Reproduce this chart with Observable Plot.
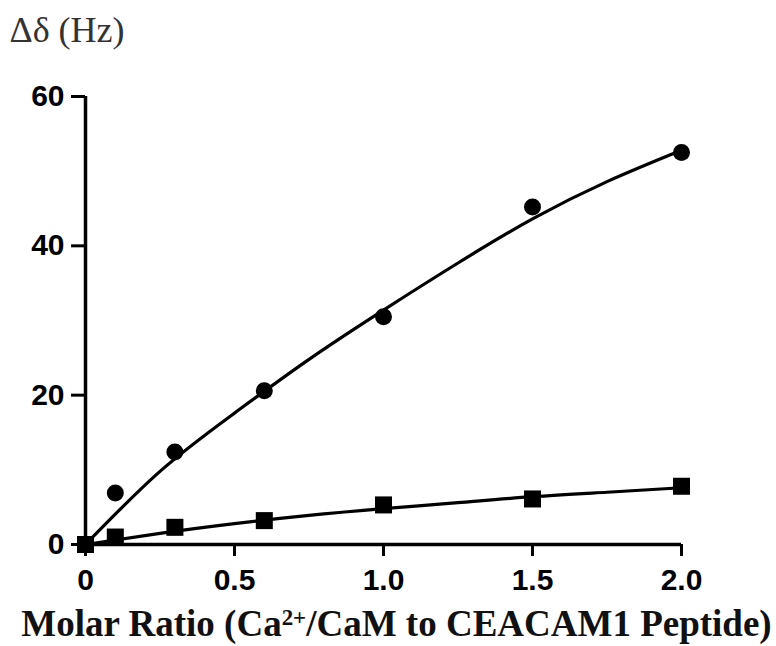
<!DOCTYPE html>
<html>
<head>
<meta charset="utf-8">
<script src="https://cdn.jsdelivr.net/npm/d3@7"></script>
<script src="https://cdn.jsdelivr.net/npm/@observablehq/plot@0.6"></script>
<style>
  html, body { margin: 0; padding: 0; background: #fff; }
</style>
</head>
<body>
<div id="chart"></div>
<script>
// Measured data (molar ratio vs chemical-shift change)
const ratios = [0, 0.1, 0.3, 0.6, 1.0, 1.5, 2.0];
const circleValues = [0, 6.9, 12.4, 20.6, 30.5, 45.2, 52.5];
const squareValues = [0, 1.0, 2.3, 3.2, 5.3, 6.1, 7.8];

// Fitted curves
const fitX = [0, 0.25, 0.5, 0.75, 1.0, 1.25, 1.5, 1.75, 2.0];
const circleFit = [0, 9.8, 17.6, 24.8, 31.4, 37.7, 43.6, 48.6, 52.8];
const squareFit = [0, 1.5, 2.8, 3.9, 4.8, 5.6, 6.4, 7.0, 7.6];

const xTicks = [0, 0.5, 1.0, 1.5, 2.0];
const xTickLabels = ["0", "0.5", "1.0", "1.5", "2.0"];
const yTicks = [0, 20, 40, 60];
const yTickLabels = ["0", "20", "40", "60"];

const yTitle = "Δδ (Hz)";
const xTitle = "Molar Ratio (Ca2+/CaM to CEACAM1 Peptide)";

const circles = ratios.map((x, i) => ({x, y: circleValues[i]}));
const squares = ratios.map((x, i) => ({x, y: squareValues[i]}));
const circleLine = fitX.map((x, i) => ({x, y: circleFit[i]}));
const squareLine = fitX.map((x, i) => ({x, y: squareFit[i]}));

const chart = Plot.plot({
  width: 776,
  height: 646,
  marginLeft: 85,
  marginRight: 95,
  marginTop: 96,
  marginBottom: 102,
  style: {fontFamily: "'Liberation Sans', Arial, sans-serif", fontWeight: "bold", fontSize: "30px", color: "#000", background: "#fff"},
  x: {domain: [0, 2]},
  y: {domain: [0, 60]},
  marks: [
    Plot.axisX({ticks: xTicks, tickFormat: (d, i) => xTickLabels[i], tickSize: 12, tickPadding: 12, strokeWidth: 3, label: null, fontSize: 30}),
    Plot.axisY({ticks: yTicks, tickFormat: (d, i) => yTickLabels[i], tickSize: 14, tickPadding: 7, strokeWidth: 3, label: null, fontSize: 30}),
    Plot.ruleX([0], {y1: 0, y2: 60, strokeWidth: 3.5}),
    Plot.ruleY([0], {x1: 0, x2: 2, strokeWidth: 3.5}),
    Plot.line(circleLine, {x: "x", y: "y", curve: "natural", strokeWidth: 3.2, stroke: "#000"}),
    Plot.line(squareLine, {x: "x", y: "y", curve: "natural", strokeWidth: 3.2, stroke: "#000"}),
    Plot.dot(circles, {x: "x", y: "y", r: 8.5, fill: "#000", symbol: "circle"}),
    Plot.dot(squares, {x: "x", y: "y", r: 9.6, fill: "#000", symbol: "square"}),
    Plot.text([yTitle], {frameAnchor: "top-left", dx: -76, dy: -55, textAnchor: "start", lineAnchor: "bottom",
      fontFamily: "'Liberation Serif', 'Times New Roman', serif", fontWeight: "normal", fontSize: 36, fill: "#333"}),
    Plot.text([xTitle], {frameAnchor: "bottom", dx: 13, dy: 91, textAnchor: "middle", lineAnchor: "bottom",
      fontFamily: "'Liberation Serif', 'Times New Roman', serif", fontWeight: "bold", fontSize: 37, fill: "#111"})
  ]
});

// Superscript "2+" in the x-axis title
d3.select(chart).selectAll("text").filter(function() { return this.textContent === xTitle; }).each(function() {
  const t = d3.select(this);
  t.text(null);
  t.append("tspan").text("Molar Ratio (Ca");
  t.append("tspan").attr("dy", "-0.45em").attr("font-size", "0.62em").text("2+");
  t.append("tspan").attr("dy", "0.28em").text("/CaM to CEACAM1 Peptide)");
});

document.getElementById("chart").appendChild(chart);
</script>
</body>
</html>
